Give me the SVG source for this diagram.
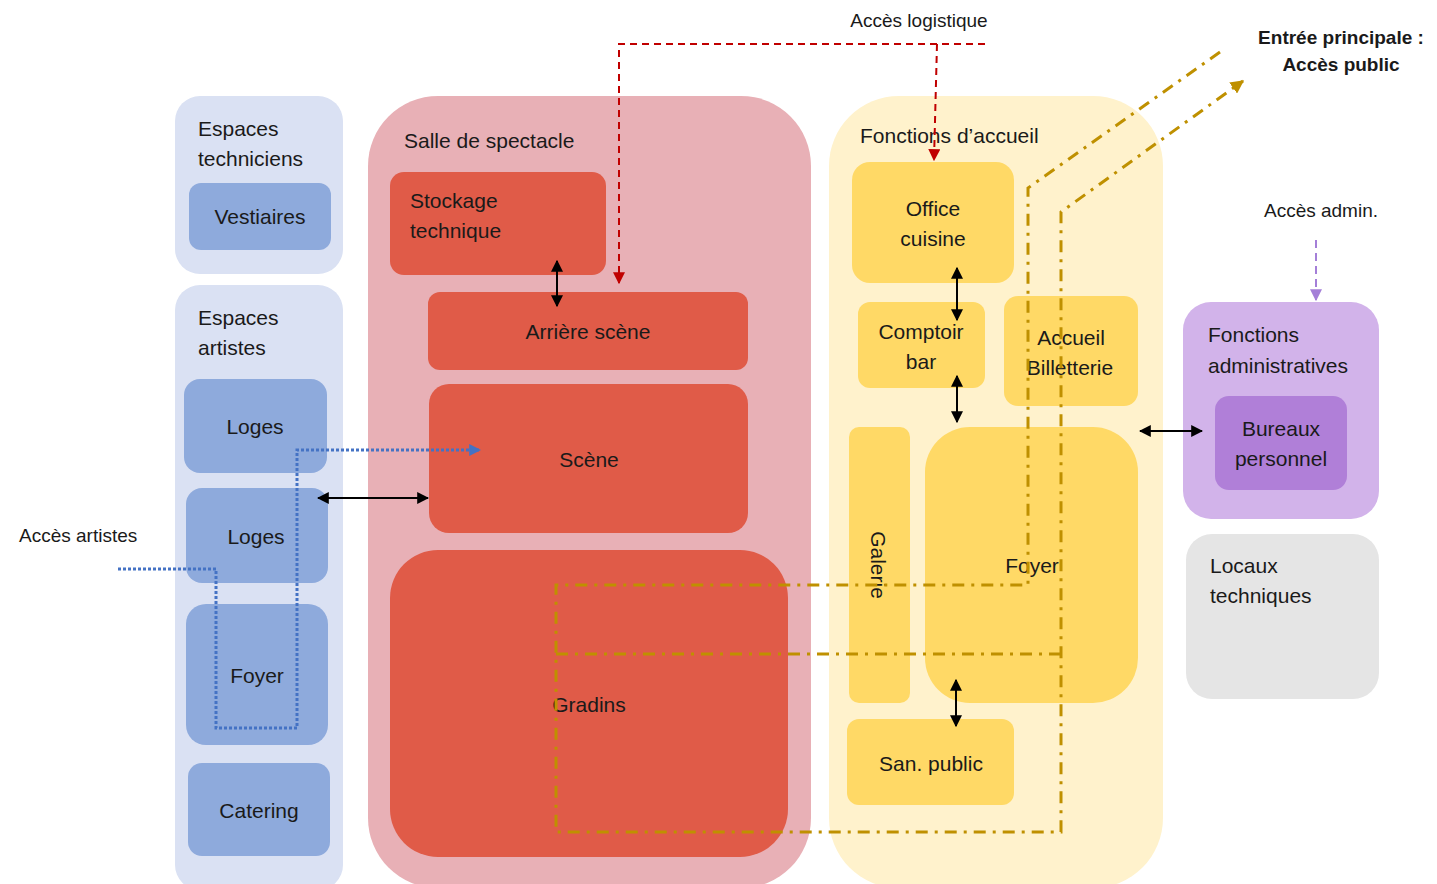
<svg xmlns="http://www.w3.org/2000/svg" width="1437" height="884" viewBox="0 0 1437 884">
<defs>
<style>
text{font-family:"Liberation Sans",Arial,sans-serif;font-size:21px;fill:#1a1a1a}
.c{text-anchor:middle}
.lbl{font-size:19px}
.b{font-weight:bold;font-size:19px}
.blueC{fill:#dae1f3}
.blueN{fill:#8eaadc}
.redC{fill:#e8b0b6}
.redN{fill:#e05b48}
.yelC{fill:#fff2cc}
.yelN{fill:#ffd966}
.purC{fill:#d2b3ea}
.purN{fill:#b07fd8}
.grey{fill:#e5e5e5}
.blk{stroke:#000;stroke-width:2;fill:none;marker-start:url(#ab);marker-end:url(#ab)}
.log{stroke:#c00000;stroke-width:2;fill:none;stroke-dasharray:7,5;marker-end:url(#ar)}
.art{stroke:#4472c4;stroke-width:3;fill:none;stroke-dasharray:3,2}
.pub{stroke:#bf9000;stroke-width:3;fill:none;stroke-dasharray:12,7,3,7}
.adm{stroke:#a47fd8;stroke-width:2;fill:none;stroke-dasharray:8,5;marker-end:url(#ap)}
</style>
<marker id="ab" viewBox="0 0 10 10" refX="9" refY="5" markerWidth="6" markerHeight="6" orient="auto-start-reverse" markerUnits="strokeWidth"><path d="M0,0 L10,5 L0,10 z" fill="#000"/></marker>
<marker id="ar" viewBox="0 0 10 10" refX="9" refY="5" markerWidth="6" markerHeight="6" orient="auto" markerUnits="strokeWidth"><path d="M0,0 L10,5 L0,10 z" fill="#c00000"/></marker>
<marker id="ab2" viewBox="0 0 10 10" refX="9" refY="5" markerWidth="4" markerHeight="4" orient="auto" markerUnits="strokeWidth"><path d="M0,0 L10,5 L0,10 z" fill="#4472c4"/></marker>
<marker id="ag" viewBox="0 0 10 10" refX="9" refY="5" markerWidth="4.5" markerHeight="4.5" orient="auto" markerUnits="strokeWidth"><path d="M0,0 L10,5 L0,10 z" fill="#bf9000"/></marker>
<marker id="ap" viewBox="0 0 10 10" refX="9" refY="5" markerWidth="6" markerHeight="6" orient="auto" markerUnits="strokeWidth"><path d="M0,0 L10,5 L0,10 z" fill="#a47fd8"/></marker>
</defs>
<rect width="1437" height="884" fill="#fff"/>

<g id="espaces-techniciens">
<rect class="blueC" x="175" y="96" width="168" height="178" rx="25"/>
<text x="198" y="136">Espaces</text>
<text x="198" y="166">techniciens</text>
</g>
<g id="vestiaires">
<rect class="blueN" x="189" y="183" width="142" height="67" rx="12"/>
<text class="c" x="260" y="224">Vestiaires</text>
</g>

<g id="espaces-artistes">
<rect class="blueC" x="175" y="285" width="168" height="605" rx="25"/>
<text x="198" y="325">Espaces</text>
<text x="198" y="355">artistes</text>
</g>
<g id="loges1">
<rect class="blueN" x="184" y="379" width="143" height="94" rx="16"/>
<text class="c" x="255" y="434">Loges</text>
</g>
<g id="loges2">
<rect class="blueN" x="186" y="488" width="142" height="95" rx="16"/>
<text class="c" x="256" y="544">Loges</text>
</g>
<g id="foyer-artistes">
<rect class="blueN" x="186" y="604" width="142" height="141" rx="20"/>
<text class="c" x="257" y="683">Foyer</text>
</g>
<g id="catering">
<rect class="blueN" x="188" y="763" width="142" height="93" rx="14"/>
<text class="c" x="259" y="818">Catering</text>
</g>

<g id="salle">
<rect class="redC" x="368" y="96" width="443" height="792" rx="70"/>
<text x="404" y="148">Salle de spectacle</text>
</g>
<g id="stockage">
<rect class="redN" x="390" y="172" width="216" height="103" rx="14"/>
<text x="410" y="208">Stockage</text>
<text x="410" y="238">technique</text>
</g>
<g id="arriere-scene">
<rect class="redN" x="428" y="292" width="320" height="78" rx="12"/>
<text class="c" x="588" y="339">Arrière scène</text>
</g>
<g id="scene">
<rect class="redN" x="429" y="384" width="319" height="149" rx="20"/>
<text class="c" x="589" y="467">Scène</text>
</g>
<g id="gradins">
<rect class="redN" x="390" y="550" width="398" height="307" rx="48"/>
<text class="c" x="589" y="712">Gradins</text>
</g>

<g id="accueil">
<rect class="yelC" x="829" y="96" width="334" height="792" rx="70"/>
<text x="860" y="143">Fonctions d’accueil</text>
</g>
<g id="office">
<rect class="yelN" x="852" y="162" width="162" height="121" rx="18"/>
<text class="c" x="933" y="216">Office</text>
<text class="c" x="933" y="246">cuisine</text>
</g>
<g id="comptoir">
<rect class="yelN" x="858" y="302" width="127" height="86" rx="12"/>
<text class="c" x="921" y="339">Comptoir</text>
<text class="c" x="921" y="369">bar</text>
</g>
<g id="billetterie">
<rect class="yelN" x="1004" y="296" width="134" height="110" rx="14"/>
<text class="c" x="1071" y="345">Accueil</text>
<text class="c" x="1070" y="375">Billetterie</text>
</g>
<g id="galerie">
<rect class="yelN" x="849" y="427" width="61" height="276" rx="10"/>
<text class="c" transform="rotate(90 871 565)" x="871" y="565">Galerie</text>
</g>
<g id="foyer">
<rect class="yelN" x="925" y="427" width="213" height="276" rx="45"/>
<text class="c" x="1032" y="573">Foyer</text>
</g>
<g id="san-public">
<rect class="yelN" x="847" y="719" width="167" height="86" rx="12"/>
<text class="c" x="931" y="771">San. public</text>
</g>

<g id="administratives">
<rect class="purC" x="1183" y="302" width="196" height="217" rx="28"/>
<text x="1208" y="342">Fonctions</text>
<text x="1208" y="373">administratives</text>
</g>
<g id="bureaux">
<rect class="purN" x="1215" y="396" width="132" height="94" rx="14"/>
<text class="c" x="1281" y="436">Bureaux</text>
<text class="c" x="1281" y="466">personnel</text>
</g>
<g id="locaux">
<rect class="grey" x="1186" y="534" width="193" height="165" rx="26"/>
<text x="1210" y="573">Locaux</text>
<text x="1210" y="603">techniques</text>
</g>

<g id="labels">
<text class="lbl c" x="919" y="27">Accès logistique</text>
<text class="b c" x="1341" y="44">Entrée principale :</text>
<text class="b c" x="1341" y="71">Accès public</text>
<text class="lbl c" x="1321" y="217">Accès admin.</text>
<text class="lbl" x="19" y="542">Accès artistes</text>
</g>

<g id="connectors">
<path class="pub" d="M1220,52 L1028,188 V585 H556 V832 H1061 V212 L1243,81" marker-end="url(#ag)"/>
<path class="pub" d="M556,654 H1061"/>
<path class="art" d="M118,569 H216 V728 H297 V450 H480" marker-end="url(#ab2)"/>
<path class="log" d="M985,44 H619 V283"/>
<path class="log" d="M937,44 L934,160"/>
<path class="adm" d="M1316,240 V300"/>
<path class="blk" d="M557,261 V306"/>
<path class="blk" d="M318,498 H428"/>
<path class="blk" d="M957,268 V320"/>
<path class="blk" d="M957,376 V422"/>
<path class="blk" d="M1140,431 H1202"/>
<path class="blk" d="M956,680 V726"/>
</g>
</svg>
